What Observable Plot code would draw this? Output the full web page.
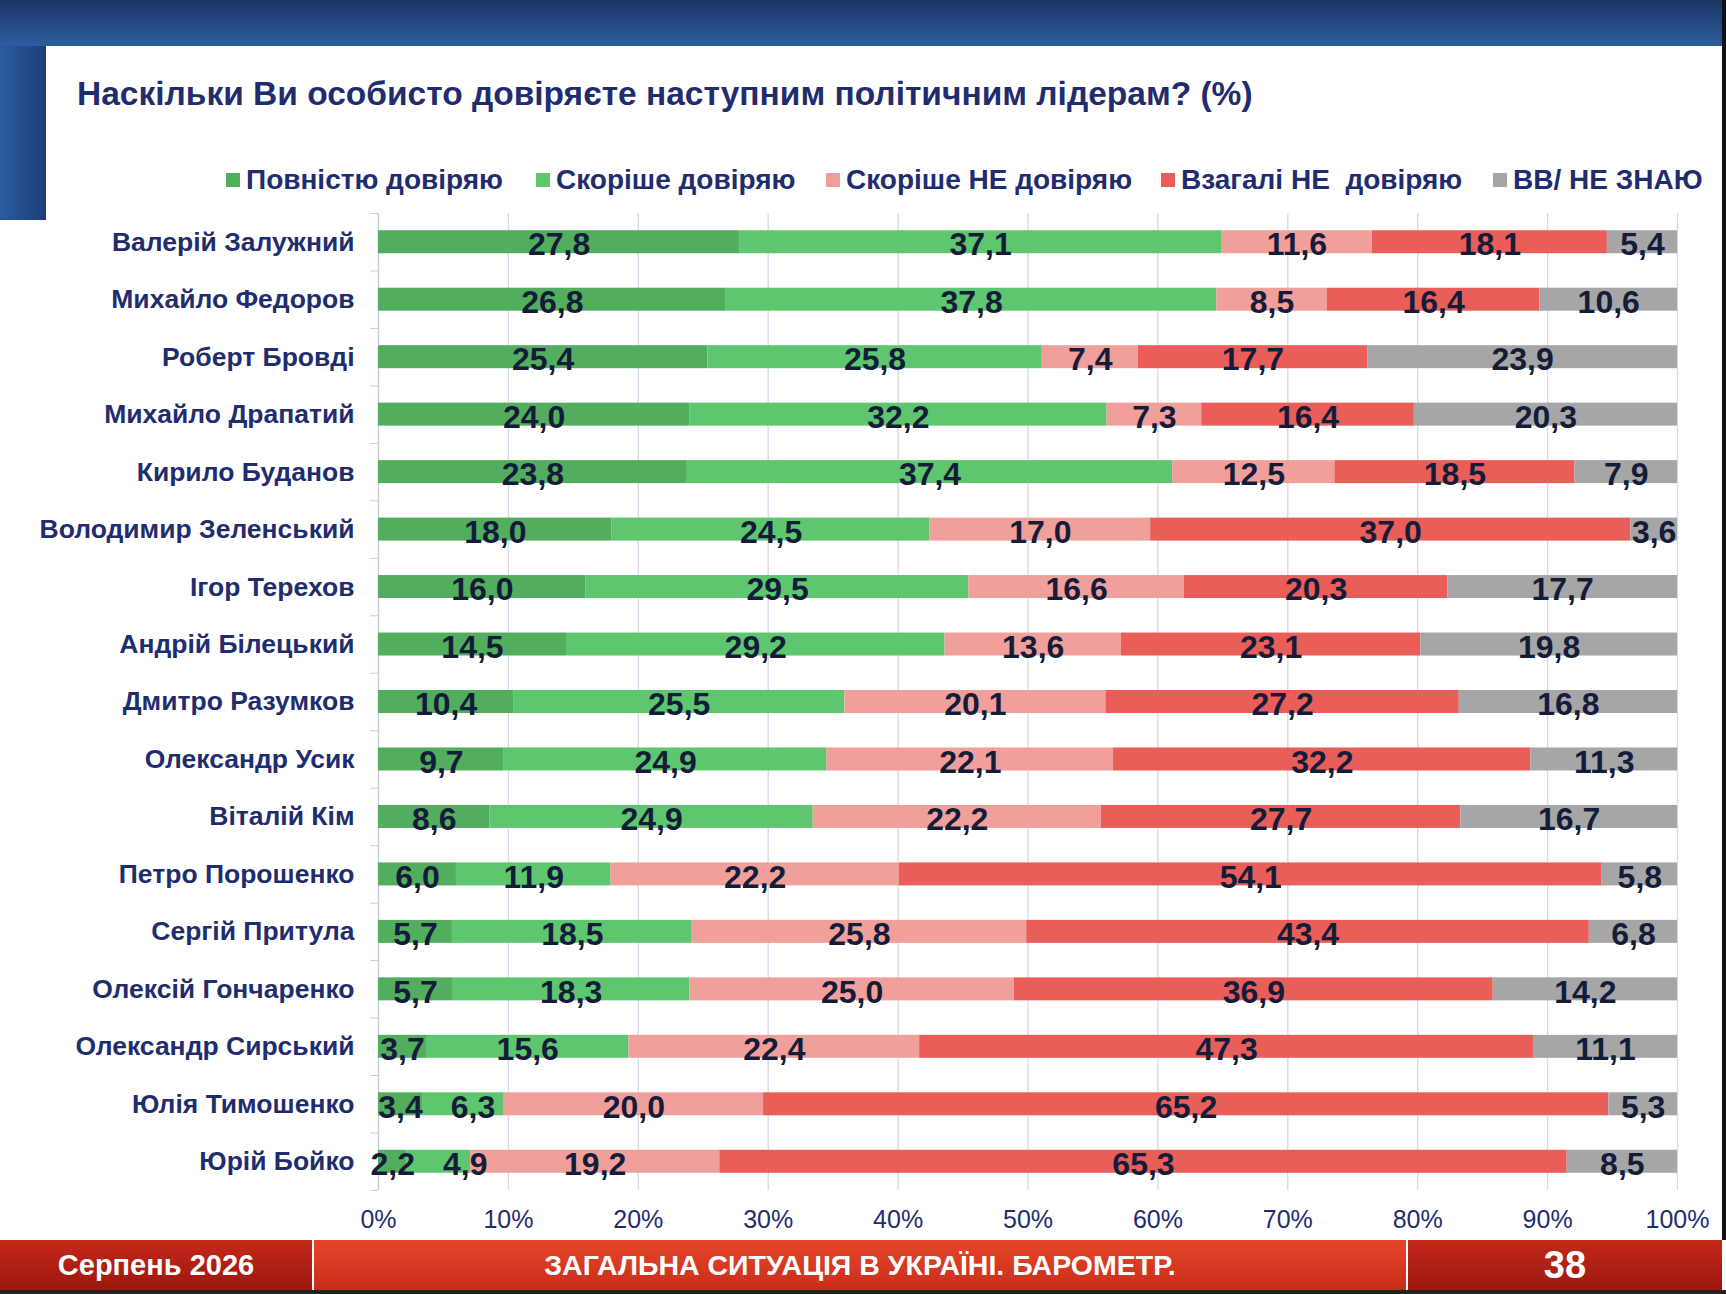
<!DOCTYPE html>
<html><head><meta charset="utf-8">
<script src="https://cdn.jsdelivr.net/npm/d3@7"></script>
<script src="https://cdn.jsdelivr.net/npm/@observablehq/plot@0.6"></script>
<style>
html,body{margin:0;padding:0;background:#fff;}
#page{position:relative;width:1726px;height:1294px;overflow:hidden;background:#fff;font-family:"Liberation Sans",Arial,sans-serif;}
#topband{position:absolute;left:0;top:0;width:1726px;height:46px;background:linear-gradient(#1b3462,#2c5e9f);}
#leftstrip{position:absolute;left:0;top:46px;width:46px;height:174px;background:linear-gradient(90deg,#2b5d9e,#1d3e76);}
#rightedge{position:absolute;right:0;top:0;width:4px;height:1240px;background:#111;}
#title{position:absolute;left:77px;top:73px;font-size:33.5px;font-weight:bold;color:#1f2d6e;white-space:nowrap;line-height:42px;}
.leg{position:absolute;top:165px;font-size:28px;font-weight:bold;color:#1f2d6e;white-space:nowrap;line-height:30px;display:flex;align-items:center;}
.leg span.sw{display:inline-block;width:14px;height:14px;margin-right:6px;}
#chart{position:absolute;left:0;top:200px;}
#footer{position:absolute;left:0;top:1240px;width:1726px;height:50px;}
.fs{position:absolute;top:0;height:50px;color:#fff;font-weight:bold;display:flex;align-items:center;justify-content:center;}
#f1{left:0;width:312px;background:linear-gradient(#c3291a,#9c170f);font-size:29px;}
#f2{left:314px;width:1092px;background:linear-gradient(#e5462a,#c92d1b);font-size:28.5px;}
#f3{left:1408px;width:314px;background:linear-gradient(#c3291a,#9c170f);font-size:38px;}
#fdiv{position:absolute;left:0;top:0;width:1726px;height:50px;background:#fff;}
#bottomline{position:absolute;left:0;top:1290px;width:1726px;height:4px;background:#222;}
</style></head>
<body><div id="page">
<div id="topband"></div><div id="leftstrip"></div><div id="rightedge"></div>
<div id="title">Наскільки Ви особисто довіряєте наступним політичним лідерам? (%)</div>
<div id="legend"></div>
<div id="chart"></div>
<div id="footer"><div id="fdiv"></div>
<div class="fs" id="f1">Серпень 2026</div>
<div class="fs" id="f2">ЗАГАЛЬНА СИТУАЦІЯ В УКРАЇНІ. БАРОМЕТР.</div>
<div class="fs" id="f3">38</div></div>
<div id="bottomline"></div>
</div>
<script>
const names = ["Валерій Залужний","Михайло Федоров","Роберт Бровді","Михайло Драпатий","Кирило Буданов","Володимир Зеленський","Ігор Терехов","Андрій Білецький","Дмитро Разумков","Олександр Усик","Віталій Кім","Петро Порошенко","Сергій Притула","Олексій Гончаренко","Олександр Сирський","Юлія Тимошенко","Юрій Бойко"];
const categories = ["Повністю довіряю","Скоріше довіряю","Скоріше НЕ довіряю","Взагалі НЕ  довіряю","ВВ/ НЕ ЗНАЮ"];
const colors = ["#52ad5e","#5ec66f","#f19f9a","#e95e58","#a6a6a6"];
const fullyTrust = [27.8,26.8,25.4,24.0,23.8,18.0,16.0,14.5,10.4,9.7,8.6,6.0,5.7,5.7,3.7,3.4,2.2];
const ratherTrust = [37.1,37.8,25.8,32.2,37.4,24.5,29.5,29.2,25.5,24.9,24.9,11.9,18.5,18.3,15.6,6.3,4.9];
const ratherNot = [11.6,8.5,7.4,7.3,12.5,17.0,16.6,13.6,20.1,22.1,22.2,22.2,25.8,25.0,22.4,20.0,19.2];
const notAtAll = [18.1,16.4,17.7,16.4,18.5,37.0,20.3,23.1,27.2,32.2,27.7,54.1,43.4,36.9,47.3,65.2,65.3];
const dontKnow = [5.4,10.6,23.9,20.3,7.9,3.6,17.7,19.8,16.8,11.3,16.7,5.8,6.8,14.2,11.1,5.3,8.5];
const xTicks = [0,0.1,0.2,0.3,0.4,0.5,0.6,0.7,0.8,0.9,1.0];

const series = [fullyTrust, ratherTrust, ratherNot, notAtAll, dontKnow];
const data = [];
names.forEach((name, i) => categories.forEach((category, j) => data.push({name, category, value: series[j][i]})));
const fmt = v => v.toFixed(1).replace(".", ",");

// chart geometry
const W = 1726, ML = 378, MR = 49, LABEL_FS = 32, MIN_GAP = 28;
const plotW = W - ML - MR;
const estWidth = s => [...s].reduce((w, c) => w + (c === "," ? 0.278 : 0.556), 0) * LABEL_FS;

// label positions: segment midpoints (normalized), nudged right when they would collide
const labels = [];
names.forEach((name, i) => {
  const total = d3.sum(series, s => s[i]);
  let cum = 0, prevRight = -Infinity;
  series.forEach((s, j) => {
    const v = s[i];
    const text = fmt(v);
    let mid = (cum + v / 2) / total;
    const halfW = estWidth(text) / 2 / plotW;
    if (mid - halfW < prevRight + MIN_GAP / plotW) mid = prevRight + MIN_GAP / plotW + halfW;
    prevRight = mid + halfW;
    labels.push({name, x: mid, text});
    cum += v;
  });
});

// legend
const legLefts = [226, 536, 826, 1161, 1493];
const legend = document.getElementById("legend");
categories.forEach((c, j) => {
  const d = document.createElement("div");
  d.className = "leg"; d.style.left = legLefts[j] + "px";
  d.innerHTML = `<span class="sw" style="background:${colors[j]}"></span>${c.replace(/  /g, "&nbsp; ")}`;
  legend.appendChild(d);
});

const half = 28.75;
const chart = Plot.plot({
  width: W, height: 1040,
  marginLeft: ML, marginRight: MR, marginTop: 13, marginBottom: 50,
  style: {fontFamily: "'Liberation Sans', Arial, sans-serif", background: "transparent", overflow: "visible"},
  x: {domain: [0, 1], axis: null},
  y: {domain: names, paddingInner: 0.6, paddingOuter: 0.3, round: false, axis: null},
  color: {domain: categories, range: colors},
  marks: [
    Plot.gridX(xTicks, {stroke: "#d5dae8", strokeOpacity: 1, strokeWidth: 1.3}),
    Plot.ruleX([0], {stroke: "#c6ccdf", strokeWidth: 1.3}),
    Plot.ruleY(names, {y: d => d, x1: -0.006, x2: 0, dy: -half, stroke: "#c6ccdf"}),
    Plot.ruleY([names[names.length - 1]], {y: d => d, x1: -0.006, x2: 0, dy: half, stroke: "#c6ccdf"}),
    Plot.barX(data, Plot.stackX({offset: "normalize", order: categories, x: "value", y: "name", fill: "category"})),
    Plot.text(labels, {x: "x", y: "name", text: "text", fontSize: LABEL_FS, fontWeight: "bold", fill: "#141c3a", dy: 3}),
    Plot.axisX(xTicks, {label: null, tickFormat: d => Math.round(d * 100) + "%", tickSize: 0, tickPadding: 20, fontSize: 25, color: "#1f2d6e"}),
    Plot.axisY({label: null, tickSize: 0, tickPadding: 24, fontSize: 26.5, fontWeight: "bold", color: "#1f2d6e"})
  ]
});
document.getElementById("chart").appendChild(chart);
</script>
</body></html>
